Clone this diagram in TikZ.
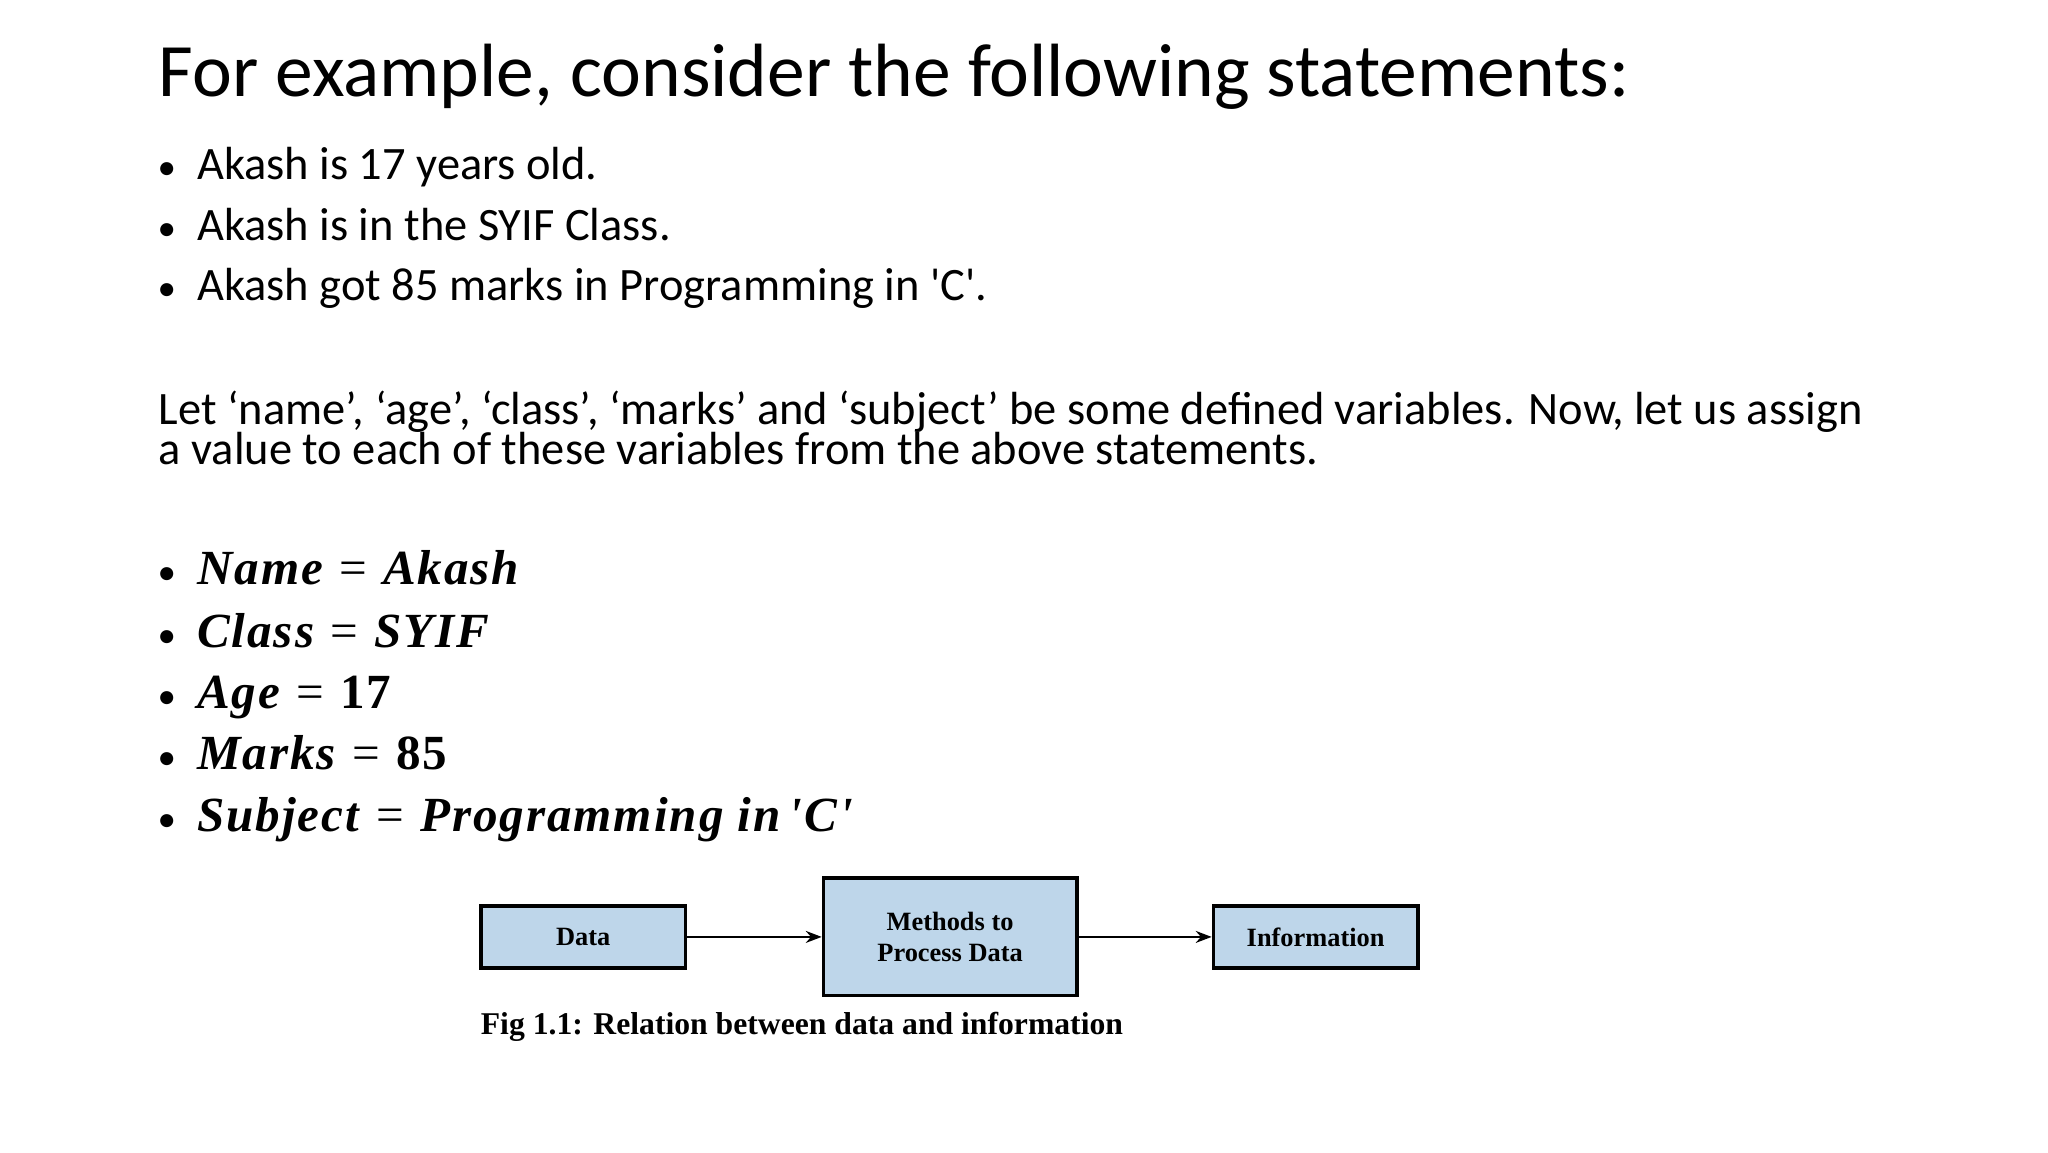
\documentclass[tikz,border=0pt]{standalone}
\usepackage{fontspec}
\setmainfont{Carlito}
\newfontfamily\plainq[Ligatures=NoCommon]{Carlito}
\newfontfamily\serifb{Liberation Serif}
\usetikzlibrary{arrows.meta}
\definecolor{boxblue}{RGB}{190,214,234}
\tikzset{
  txt/.style={anchor=base west, inner sep=0pt},
  flowbox/.style={draw, line width=1.3pt, fill=boxblue, font=\serifb\bfseries\fontsize{10}{12}\selectfont, align=center, inner sep=0pt},
  arr/.style={-{Stealth[length=6pt]}, line width=1pt}
}
\begin{document}
\begin{tikzpicture}[x=0.5pt,y=-0.5pt]
\useasboundingbox (0,0) rectangle (1552,873);
\node[txt, font=\fontsize{28.6}{34}\selectfont] (title) at (120,73) {For example, consider the following statements:};
\foreach \yy/\t [count=\i] in {136/Akash is 17 years old., 182/Akash is in the SYIF Class., 228/{Akash got 85 marks in Programming in \textquotesingle C\textquotesingle.}} {
  \node[txt, font=\fontsize{14}{20}\selectfont] (b\i) at (119,\yy) {•};
  \node[txt, font=\fontsize{17.6}{20}\selectfont] (s\i) at (149,\yy) {\t};
}
\node[txt, font=\fontsize{17.6}{20}\selectfont] (p1) at (120,322) {Let ‘name’, ‘age’, ‘class’, ‘marks’ and ‘subject’ be some defined variables. Now, let us assign};
\node[txt, font=\fontsize{17.6}{20}\selectfont] (p2) at (120,352) {a value to each of these variables from the above statements.};
\foreach \yy/\a/\b [count=\i] in {443/Name/Akash, 491/Class/SYIF, 537/Age/\upshape 17, 583/Marks/\upshape 85, 630/Subject/{Programming in\,\symbol{39}C\symbol{39}}} {
  \node[txt, font=\fontsize{14}{20}\selectfont] (mb\i) at (119,\yy) {•};
  \node[txt, font=\serifb\fontsize{18.6}{22}\selectfont] (m\i) at (149,\yy) {\addfontfeature{LetterSpace=4}\textbf{\itshape\a} = \textbf{\itshape\b}};
}
\node[flowbox, minimum width=77.5pt, minimum height=23.5pt] (data) at (442,710) {Data};
\node[flowbox, minimum width=96pt, minimum height=44.5pt] (meth) at (720,710) {Methods to\\Process Data};
\node[flowbox, minimum width=77.5pt, minimum height=23.5pt] (info) at (997,710) {Information};
\draw[arr] (data) -- (meth);
\draw[arr] (meth) -- (info);
\node[txt, font=\serifb\bfseries\fontsize{12}{14}\selectfont] (cap) at (364,784) {Fig 1.1: Relation between data and information};
\end{tikzpicture}
\end{document}
